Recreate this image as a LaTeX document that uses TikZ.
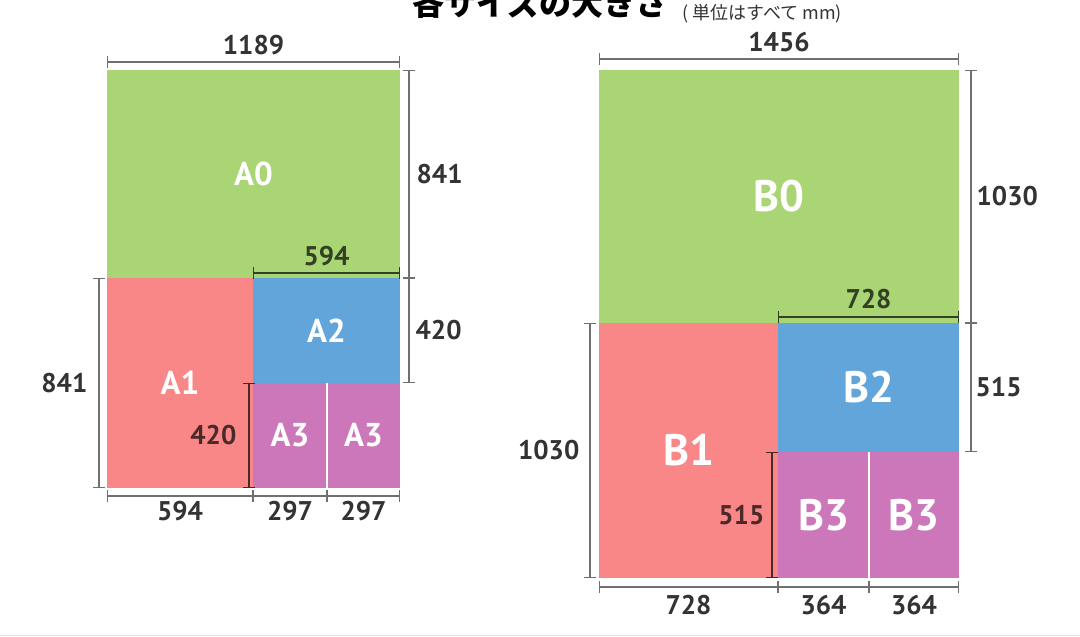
\documentclass[tikz,border=0pt]{standalone}
\usepackage{fontspec}
\setmainfont{PT Sans}
\newfontfamily\jpfont{Noto Sans CJK JP}
\usepackage{tikz}
\usetikzlibrary{arrows.meta}

\definecolor{sheetgreen}{HTML}{A9D574}
\definecolor{sheetpink}{HTML}{F98787}
\definecolor{sheetblue}{HTML}{62A5DB}
\definecolor{sheetpurple}{HTML}{CC77B9}
\definecolor{dimgray}{HTML}{707070}
\definecolor{numgray}{HTML}{333333}
\colorlet{innergreen}{sheetgreen!30!black}
\colorlet{innerred}{sheetpink!30!black}

\begin{document}
\begin{tikzpicture}[x=1pt, y=-1pt,
    sheet/.style={rectangle, inner sep=0pt, outer sep=0pt, text=white, font=\fontsize{33}{33}\selectfont\bfseries},
    bsheet/.style={sheet, font=\fontsize{44}{44}\selectfont\bfseries},
    dimline/.style={draw=dimgray, line width=1.3pt, {Bar[width=12pt]}-{Bar[width=12pt]}},
    dimlabel/.style={inner sep=0pt, text=numgray, font=\fontsize{27}{27}\selectfont\bfseries}]
  \path[use as bounding box, fill=white] (0,0) rectangle (1080,637);
  \clip (0,0) rectangle (1080,637);

  % Title (cut off at the top)
  \node[inner sep=0pt, font={\jpfont\bfseries\fontsize{32}{32}\selectfont}] (title) at (540,3) {各サイズの大きさ};
  \node[inner sep=0pt, anchor=west, text=numgray, font={\jpfont\fontsize{18}{18}\selectfont}] (unit) at (682,14) {( 単位はすべて mm)};

  % A series
  \node[sheet, fill=sheetgreen, minimum width=293pt, minimum height=208pt] (a0) at (253.5,174) {A0};
  \node[sheet, fill=sheetpink, minimum width=146pt, minimum height=210pt] (a1) at (180,383) {A1};
  \node[sheet, fill=sheetblue, minimum width=147pt, minimum height=105pt] (a2) at (326.5,330.5) {A2};
  \node[sheet, fill=sheetpurple, minimum width=74pt, minimum height=105pt] (a3a) at (290,435.5) {A3};
  \node[sheet, fill=sheetpurple, minimum width=73pt, minimum height=105pt] (a3b) at (363.5,435.5) {A3};
  \draw[white, line width=1.5pt] (a3a.north east) -- (a3a.south east);

  % A dimensions
  \draw[dimline] ([yshift=8pt]a0.north west) -- node[dimlabel, above=6pt] {1189} ([yshift=8pt]a0.north east);
  \draw[dimline] ([xshift=9pt]a0.north east) -- node[dimlabel, right=7pt] {841} ([xshift=9pt]a0.south east);
  \draw[dimline] ([xshift=9pt]a2.north east) -- node[dimlabel, right=6pt] {420} ([xshift=9pt]a2.south east);
  \draw[dimline] ([xshift=-8pt]a1.north west) -- node[dimlabel, left=11pt] {841} ([xshift=-8pt]a1.south west);
  \draw[dimline, draw=innergreen] ([yshift=5pt]a2.north west) -- node[dimlabel, text=innergreen, above=6pt] {594} ([yshift=5pt]a2.north east);
  \draw[dimline, draw=innerred] ([xshift=-4pt]a3a.north west) -- node[dimlabel, text=innerred, left=12pt] {420} ([xshift=-4pt]a3a.south west);
  \draw[dimline] ([yshift=-8pt]a1.south west) -- node[dimlabel, below=5pt] {594} ([yshift=-8pt]a1.south east);
  \draw[dimline] ([yshift=-8pt]a3a.south west) -- node[dimlabel, below=5pt] {297} ([yshift=-8pt]a3a.south east);
  \draw[dimline] ([yshift=-8pt]a3b.south west) -- node[dimlabel, below=5pt] {297} ([yshift=-8pt]a3b.south east);

  % B series
  \node[bsheet, fill=sheetgreen, minimum width=360pt, minimum height=253pt] (b0) at (779,196.5) {B0};
  \node[bsheet, fill=sheetpink, minimum width=179pt, minimum height=255pt] (b1) at (688.5,450.5) {B1};
  \node[bsheet, fill=sheetblue, minimum width=181pt, minimum height=129pt] (b2) at (868.5,387.5) {B2};
  \node[bsheet, fill=sheetpurple, minimum width=91pt, minimum height=126pt] (b3a) at (823.5,515) {B3};
  \node[bsheet, fill=sheetpurple, minimum width=90pt, minimum height=126pt] (b3b) at (914,515) {B3};
  \draw[white, line width=1.5pt] (b3a.north east) -- (b3a.south east);

  % B dimensions
  \draw[dimline] ([yshift=11pt]b0.north west) -- node[dimlabel, above=6pt] {1456} ([yshift=11pt]b0.north east);
  \draw[dimline] ([xshift=12pt]b0.north east) -- node[dimlabel, right=5pt] {1030} ([xshift=12pt]b0.south east);
  \draw[dimline] ([xshift=12pt]b2.north east) -- node[dimlabel, right=4pt] {515} ([xshift=12pt]b2.south east);
  \draw[dimline] ([xshift=-9pt]b1.north west) -- node[dimlabel, left=10pt] {1030} ([xshift=-9pt]b1.south west);
  \draw[dimline, draw=innergreen] ([yshift=6pt]b2.north west) -- node[dimlabel, text=innergreen, above=7pt] {728} ([yshift=6pt]b2.north east);
  \draw[dimline, draw=innerred] ([xshift=-6pt]b3a.north west) -- node[dimlabel, text=innerred, left=7pt] {515} ([xshift=-6pt]b3a.south west);
  \draw[dimline] ([yshift=-9pt]b1.south west) -- node[dimlabel, below=8pt] {728} ([yshift=-9pt]b1.south east);
  \draw[dimline] ([yshift=-9pt]b3a.south west) -- node[dimlabel, below=8pt] {364} ([yshift=-9pt]b3a.south east);
  \draw[dimline] ([yshift=-9pt]b3b.south west) -- node[dimlabel, below=8pt] {364} ([yshift=-9pt]b3b.south east);

  % screenshot edge
  \draw[black!12, line width=1pt] (0,635.5) -- (1080,635.5);
\end{tikzpicture}
\end{document}
